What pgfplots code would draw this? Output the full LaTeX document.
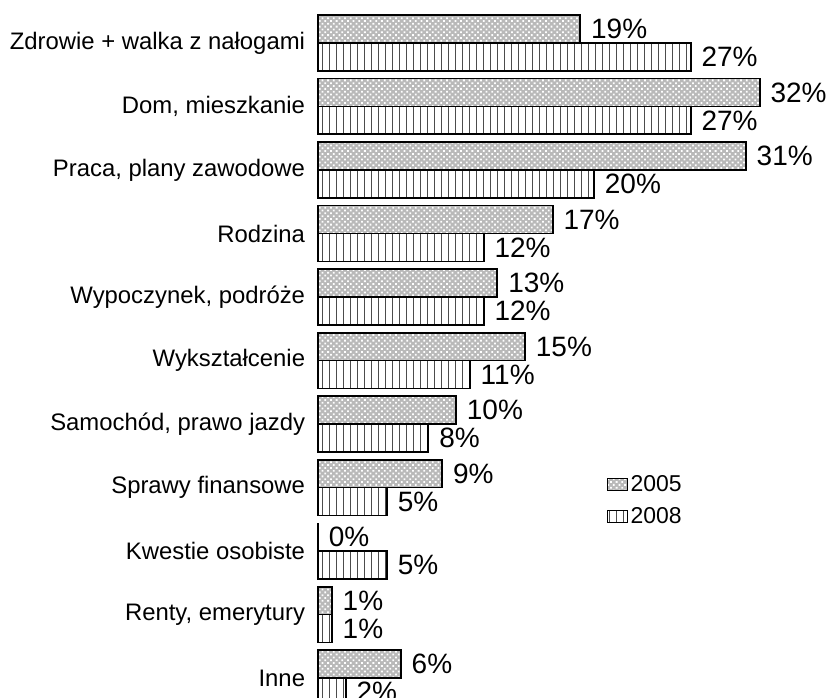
\documentclass[border=0pt]{standalone}
\usepackage{fontspec}
\setmainfont{Liberation Sans}
\usepackage{pgfplots}
\pgfplotsset{compat=1.18}
\usetikzlibrary{patterns,patterns.meta}
\newcommand{\lblfont}{\fontsize{17.9}{19}\selectfont}
\newcommand{\legfont}{\fontsize{17.2}{18}\selectfont}
\newcommand{\pctfont}{\fontsize{21}{22}\selectfont}
\begin{document}
\begin{tikzpicture}
\begin{axis}[
  x=10.35pt, y=47.625pt,
  xmin=0, xmax=33.5, ymin=-0.5, ymax=10.5,
  clip=false,
  axis line style={draw=none},
  xtick=\empty,
  ytick={0,...,10},
  yticklabels={Inne,{Renty, emerytury},Kwestie osobiste,Sprawy finansowe,{Samochód, prawo jazdy},Wykształcenie,{Wypoczynek, podróże},Rodzina,{Praca, plany zawodowe},{Dom, mieszkanie},Zdrowie + walka z nałogami},
  major tick length=0pt,
  yticklabel style={font=\lblfont, inner sep=0pt, anchor=east, xshift=-9.5pt},
  xbar, bar width=0.44,
  /pgf/number format/assume math mode=true,
  nodes near coords={\pgfmathprintnumber{\pgfplotspointmeta}\%},
  nodes near coords style={font=\pctfont, anchor=west, inner sep=0pt, xshift=7.5pt},
  legend style={at={(axis cs:20.9,3.24)}, anchor=north west, draw=none, fill=none,
    font=\legfont, inner sep=0pt, row sep=6.5pt},
  legend cell align=left,
  legend image code/.code={\draw[#1, line width=0.9pt] (0pt,-4.5pt) rectangle (15pt,4.5pt);},
]
\addplot[draw=black, line width=1.4pt, fill=gray!55, bar shift=0.22,
  postaction={pattern={Dots[distance=3pt, radius=0.95pt, angle=45]}, pattern color=white}]
  coordinates {(6,0) (1,1) (0,2) (9,3) (10,4) (15,5) (13,6) (17,7) (31,8) (32,9) (19,10)};
\addlegendentry{2005}
\addplot[draw=black, line width=1.4pt, fill=white, bar shift=-0.22,
  postaction={pattern={Lines[angle=90,distance=5.25pt,line width=0.65pt]}, pattern color=black!70}]
  coordinates {(2,0) (1,1) (5,2) (5,3) (8,4) (11,5) (12,6) (12,7) (20,8) (27,9) (27,10)};
\addlegendentry{2008}
\coordinate (bbsw) at (axis cs:-23.04,-0.299);
\coordinate (bbne) at (axis cs:37.39,10.677);
\end{axis}
\pgfresetboundingbox
\useasboundingbox (bbsw) rectangle (bbne);
\end{tikzpicture}
\end{document}
